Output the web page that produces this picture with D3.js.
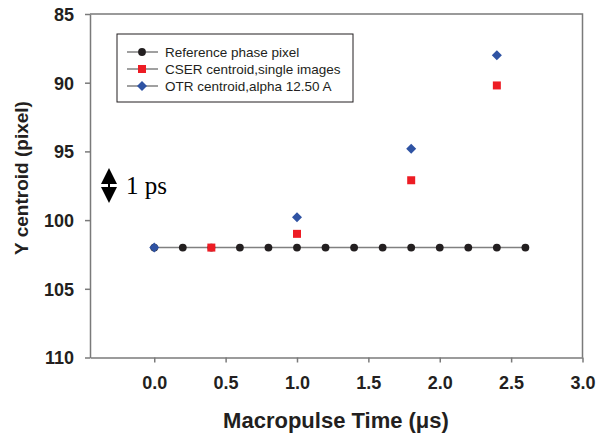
<!DOCTYPE html>
<html>
<head>
<meta charset="utf-8">
<script src="https://cdn.jsdelivr.net/npm/d3@7"></script>
<style>
  body { margin: 0; background: #fff; }
  svg { display: block; font-family: Arial, "Liberation Sans", sans-serif; }
</style>
</head>
<body>
<div class="container"></div>
<script>
// reference phase pixel
const refTime = [0.0, 0.2, 0.4, 0.6, 0.8, 1.0, 1.2, 1.4, 1.6, 1.8, 2.0, 2.2, 2.4, 2.6];
const refY = [102, 102, 102, 102, 102, 102, 102, 102, 102, 102, 102, 102, 102, 102];
// CSER centroid
const cserTime = [0.4, 1.0, 1.8, 2.4];
const cserY = [102, 101.0, 97.1, 90.2];
// OTR centroid
const otrTime = [0.0, 1.0, 1.8, 2.4];
const otrY = [102, 99.8, 94.8, 88.0];

const xTicks = [0.0, 0.5, 1.0, 1.5, 2.0, 2.5, 3.0];
const yTicks = [85, 90, 95, 100, 105, 110];
const legendLabels = ["Reference phase pixel", "CSER centroid,single images", "OTR centroid,alpha 12.50 A"];

const w = 597;
const h = 435;

const svg = d3.select(".container")
              .append("svg")
              .attr("width", w)
              .attr("height", h);

/* Scales */
const xScale = d3.scaleLinear()
                 .domain([-0.45, 3.0])
                 .range([90, 582.5]);
const yScale = d3.scaleLinear()
                 .domain([85, 110])
                 .range([14, 357.5]);

const axisCol = "#7a7a7a";

/* frame (top and right) */
svg.append("path")
   .attr("d", "M" + xScale(-0.45) + "," + yScale(85) + "H" + xScale(3.0) + "V" + yScale(110))
   .attr("fill", "none")
   .attr("stroke", axisCol)
   .attr("stroke-width", 1.5);

/* Axes */
const xAxis = d3.axisBottom(xScale).tickValues(xTicks).tickFormat(d3.format(".1f")).tickSizeInner(5).tickSizeOuter(0).tickPadding(14);
const yAxis = d3.axisLeft(yScale).tickValues(yTicks).tickFormat(d3.format("d")).tickSizeInner(5).tickSizeOuter(0).tickPadding(11);

const gx = svg.append("g")
   .attr("id", "x-axis")
   .attr("transform", "translate(0," + yScale(110) + ")")
   .call(xAxis);
const gy = svg.append("g")
   .attr("id", "y-axis")
   .attr("transform", "translate(" + xScale(-0.45) + ",0)")
   .call(yAxis);

[gx, gy].forEach(g => {
    g.select(".domain").attr("stroke", axisCol).attr("stroke-width", 1.5);
    g.selectAll(".tick line").attr("stroke", axisCol).attr("stroke-width", 1.5);
    g.selectAll(".tick text")
     .attr("fill", "#231f20")
     .style("font-size", "18px")
     .style("font-weight", "bold")
     .style("font-family", "Arial, 'Liberation Sans', sans-serif");
});
gy.selectAll(".tick text").attr("dy", "0.36em");

/* Axis titles */
svg.append("text")
   .text("Macropulse Time (\u03bcs)")
   .attr("x", 336)
   .attr("y", 428)
   .attr("text-anchor", "middle")
   .attr("fill", "#231f20")
   .style("font-size", "22px")
   .style("font-weight", "bold");

svg.append("text")
   .text("Y centroid (pixel)")
   .attr("transform", "translate(28,178) rotate(-90)")
   .attr("text-anchor", "middle")
   .attr("fill", "#231f20")
   .style("font-size", "19px")
   .style("font-weight", "bold");

/* Reference line + dots */
const refData = refTime.map((t, i) => ({x: t, y: refY[i]}));
const line = d3.line().x(d => xScale(d.x)).y(d => yScale(d.y));

svg.append("path")
   .datum(refData)
   .attr("d", line)
   .attr("fill", "none")
   .attr("stroke", "#808080")
   .attr("stroke-width", 1.5);

const symCircle = d3.symbol().type(d3.symbolCircle).size(48);
const symSquare = d3.symbol().type(d3.symbolSquare).size(64);
const symDiamond = d3.symbol().type(d3.symbolDiamond2).size(64);

svg.selectAll(".ref")
   .data(refData)
   .enter()
   .append("path")
   .attr("class", "ref")
   .attr("d", symCircle)
   .attr("transform", d => "translate(" + xScale(d.x) + "," + yScale(d.y) + ")")
   .attr("fill", "#231f20");

svg.selectAll(".cser")
   .data(cserTime.map((t, i) => ({x: t, y: cserY[i]})))
   .enter()
   .append("path")
   .attr("class", "cser")
   .attr("d", symSquare)
   .attr("transform", d => "translate(" + xScale(d.x) + "," + yScale(d.y) + ")")
   .attr("fill", "#ed1c24");

svg.selectAll(".otr")
   .data(otrTime.map((t, i) => ({x: t, y: otrY[i]})))
   .enter()
   .append("path")
   .attr("class", "otr")
   .attr("d", symDiamond)
   .attr("transform", d => "translate(" + xScale(d.x) + "," + yScale(d.y) + ")")
   .attr("fill", "#2f53a3");

/* Legend */
const legend = svg.append("g").attr("class", "legend");
legend.append("rect")
      .attr("x", 117)
      .attr("y", 34)
      .attr("width", 236)
      .attr("height", 68)
      .attr("fill", "#fff")
      .attr("stroke", "#231f20")
      .attr("stroke-width", 1);

const legSyms = [[symCircle, "#231f20"], [symSquare, "#ed1c24"], [symDiamond, "#2f53a3"]];
legendLabels.forEach((lab, i) => {
    const ly = 52 + i * 17;
    legend.append("line")
          .attr("x1", 127).attr("x2", 158)
          .attr("y1", ly).attr("y2", ly)
          .attr("stroke", "#808080")
          .attr("stroke-width", 1.5);
    legend.append("path")
          .attr("d", legSyms[i][0])
          .attr("transform", "translate(142," + ly + ")")
          .attr("fill", legSyms[i][1]);
    legend.append("text")
          .text(lab)
          .attr("x", 165)
          .attr("y", ly)
          .attr("dy", "0.36em")
          .attr("fill", "#231f20")
          .style("font-size", "13.5px");
});

/* 1 ps annotation */
const ann = svg.append("g");
ann.append("line")
   .attr("x1", 109).attr("x2", 109)
   .attr("y1", 180).attr("y2", 192)
   .attr("stroke", "#000")
   .attr("stroke-width", 2);
ann.append("path")
   .attr("d", "M109,168 L117,184 L101,184 Z M109,203 L117,187 L101,187 Z")
   .attr("fill", "#000");
ann.append("text")
   .text("1 ps")
   .attr("x", 126)
   .attr("y", 194)
   .attr("fill", "#000")
   .style("font-family", "'Liberation Serif', 'Times New Roman', serif")
   .style("font-size", "25px");
</script>
</body>
</html>
